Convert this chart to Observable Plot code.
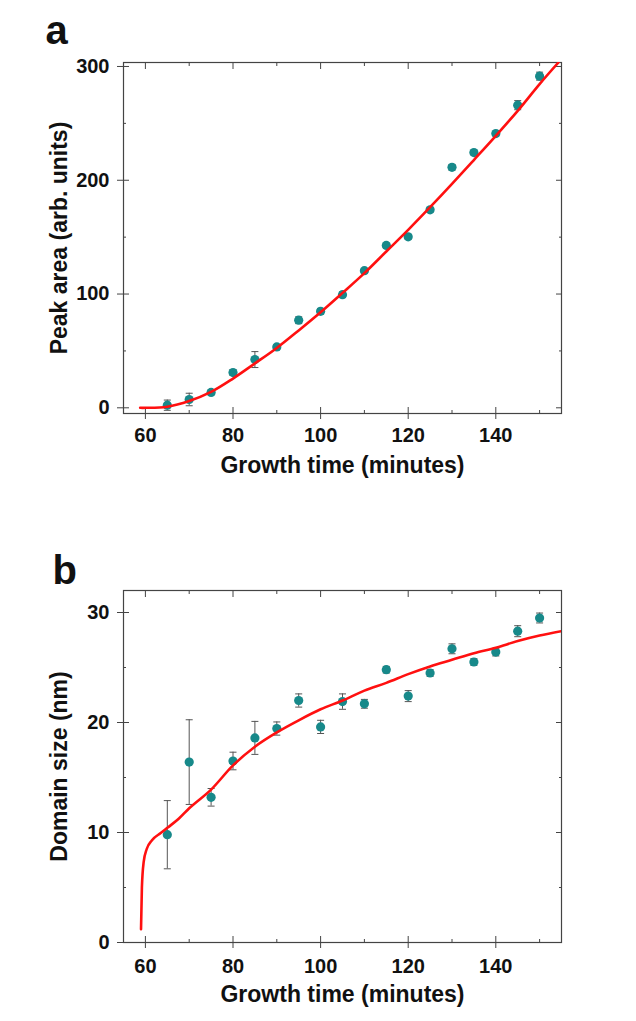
<!DOCTYPE html>
<html>
<head>
<meta charset="utf-8">
<script src="https://cdn.jsdelivr.net/npm/d3@7"></script>
<script src="https://cdn.jsdelivr.net/npm/@observablehq/plot@0.6"></script>
<style>
  html, body { margin: 0; padding: 0; background: #fff; }
  #wrap { position: relative; width: 636px; height: 1021px; overflow: hidden; }
  #wrap svg { display: block; position: absolute; left: 0; }
</style>
</head>
<body>
<div id="wrap"></div>
<script>
// ---- Data ----
const growthTime = [65, 70, 75, 80, 85, 90, 95, 100, 105, 110, 115, 120, 125, 130, 135, 140, 145, 150];

const peakArea = [2.3, 7.3, 13.5, 31, 42.4, 53.5, 77, 84.8, 99.4, 120.5, 142.7, 150.3, 174, 211.4, 224.3, 241, 266, 291.5];
const peakAreaErr = [4.5, 5.5, 2, 2.5, 7, 2, 3, 2.5, 2.5, 2, 2, 2, 2, 2.5, 2, 2, 4, 3.5];

const domainSize = [9.8, 16.4, 13.2, 16.5, 18.6, 19.45, 22.0, 19.6, 21.9, 21.7, 24.8, 22.4, 24.5, 26.7, 25.5, 26.4, 28.3, 29.5];
const domainSizeErr = [3.1, 3.85, 0.8, 0.8, 1.5, 0.6, 0.6, 0.6, 0.7, 0.4, 0.3, 0.5, 0.3, 0.45, 0.3, 0.35, 0.5, 0.45];

const fitATime  = [58.8, 60, 65, 70, 75, 80, 85, 90, 95, 100, 105, 110, 115, 120, 125, 130, 135, 140, 145, 150, 154.3];
const fitAValue = [0, 0, 1, 6, 14, 25.7, 39, 52.6, 68, 84, 101, 118.4, 137.4, 156.4, 176.3, 196.8, 217.8, 239, 261, 284.5, 303.5];

const fitBTime  = [59.0, 59.2, 59.6, 60.3, 61.5, 63.5, 65.1, 67.6, 70, 75, 80, 85, 90, 95, 100, 105, 110, 115, 120, 125, 130, 135, 140, 145, 150, 155];
const fitBValue = [1.2, 5.0, 7.3, 8.5, 9.3, 9.95, 10.45, 11.25, 12.2, 13.9, 16.1, 17.8, 19.1, 20.2, 21.2, 22.0, 22.9, 23.6, 24.4, 25.1, 25.7, 26.3, 26.8, 27.4, 27.9, 28.3];

const xMajor = [60, 80, 100, 120, 140];
const xMinor = [70, 90, 110, 130, 150];
const yMajorA = [0, 100, 200, 300];
const yMinorA = [50, 150, 250];
const yMajorB = [0, 10, 20, 30];
const yMinorB = [5, 15, 25];

const xLabel = "Growth time (minutes)";
const yLabelA = "Peak area (arb. units)";
const yLabelB = "Domain size (nm)";

// ---- Styles ----
const FONT = "'Liberation Sans', Arial, sans-serif";
const pointColor = "#17898a";
const fitColor = "#ff1010";
const errColor = "#555";
const axisColor = "#444";

function panel({letter, values, errors, fitT, fitV, curve, yDomain, yMajor, yMinor, yLabel, height, marginTop, marginBottom, letterDx, letterDy, xTickPad}) {
  const pts = growthTime.map((t, i) => ({t, v: values[i], e: errors[i]}));
  const fit = fitT.map((t, i) => ({t, v: fitV[i]}));
  const noText = () => "";
  return Plot.plot({
    width: 636,
    height,
    marginLeft: 123,
    marginRight: 75,
    marginTop,
    marginBottom,
    style: {fontFamily: FONT, background: "transparent", overflow: "visible"},
    x: {domain: [55, 155]},
    y: {domain: yDomain},
    marks: [
      Plot.frame({stroke: axisColor, strokeWidth: 1.2}),
      Plot.axisX({anchor: "bottom", ticks: xMajor, tickSize: 6, tickPadding: xTickPad, fontSize: 20, fontWeight: "bold", fill: "#111", stroke: axisColor, label: null}),
      Plot.axisX({anchor: "bottom", ticks: xMajor, tickSize: -6, tickFormat: noText, stroke: axisColor, label: null}),
      Plot.axisX({anchor: "bottom", ticks: xMinor, tickSize: -3, tickFormat: noText, stroke: axisColor, label: null}),
      Plot.axisX({anchor: "top", ticks: xMajor, tickSize: -6, tickFormat: noText, stroke: axisColor, label: null}),
      Plot.axisX({anchor: "top", ticks: xMinor, tickSize: -3, tickFormat: noText, stroke: axisColor, label: null}),
      Plot.axisY({anchor: "left", ticks: yMajor, tickSize: 6, tickPadding: 8, fontSize: 20, fontWeight: "bold", fill: "#111", stroke: axisColor, label: null}),
      Plot.axisY({anchor: "left", ticks: yMajor, tickSize: -6, tickFormat: noText, stroke: axisColor, label: null}),
      Plot.axisY({anchor: "left", ticks: yMinor, tickSize: -3, tickFormat: noText, stroke: axisColor, label: null}),
      Plot.axisY({anchor: "right", ticks: yMajor, tickSize: -6, tickFormat: noText, stroke: axisColor, label: null}),
      Plot.axisY({anchor: "right", ticks: yMinor, tickSize: -3, tickFormat: noText, stroke: axisColor, label: null}),
      // error bars
      Plot.ruleX(pts, {x: "t", y1: d => d.v - d.e, y2: d => d.v + d.e, stroke: errColor, strokeWidth: 1}),
      Plot.link(pts, {x1: d => d.t - 0.8, x2: d => d.t + 0.8, y1: d => d.v - d.e, y2: d => d.v - d.e, stroke: errColor, strokeWidth: 1}),
      Plot.link(pts, {x1: d => d.t - 0.8, x2: d => d.t + 0.8, y1: d => d.v + d.e, y2: d => d.v + d.e, stroke: errColor, strokeWidth: 1}),
      // points
      Plot.dot(pts, {x: "t", y: "v", r: 4.6, fill: pointColor, stroke: "none"}),
      // fit
      Plot.line(fit, {x: "t", y: "v", stroke: fitColor, strokeWidth: 2.6, curve, clip: true}),
      // axis labels
      Plot.text([xLabel], {frameAnchor: "bottom", dy: 59, textAnchor: "middle", fontSize: 23, fontWeight: "bold", fill: "#111"}),
      Plot.text([yLabel], {frameAnchor: "left", dx: -64, textAnchor: "middle", lineAnchor: "middle", rotate: -90, fontSize: 23, fontWeight: "bold", fill: "#111"}),
      // panel letter
      Plot.text([letter], {frameAnchor: "top-left", dx: letterDx, dy: letterDy, textAnchor: "start", lineAnchor: "bottom", fontSize: 40, fontWeight: "bold", fill: "#111"})
    ]
  });
}

const wrap = document.getElementById("wrap");

const a = panel({
  letter: "a", values: peakArea, errors: peakAreaErr, fitT: fitATime, fitV: fitAValue, curve: "catmull-rom",
  yDomain: [-5, 303.5], yMajor: yMajorA, yMinor: yMinorA, yLabel: yLabelA,
  height: 500, marginTop: 62, marginBottom: 87, letterDx: -78, letterDy: -19, xTickPad: 8
});
a.style.top = "0px";
wrap.appendChild(a);

const b = panel({
  letter: "b", values: domainSize, errors: domainSizeErr, fitT: fitBTime, fitV: fitBValue, curve: "monotone-x",
  yDomain: [0, 32], yMajor: yMajorB, yMinor: yMinorB, yLabel: yLabelB,
  height: 511, marginTop: 80, marginBottom: 79, letterDx: -71, letterDy: -7, xTickPad: 10
});
b.style.top = "510px";
wrap.appendChild(b);
</script>
</body>
</html>
